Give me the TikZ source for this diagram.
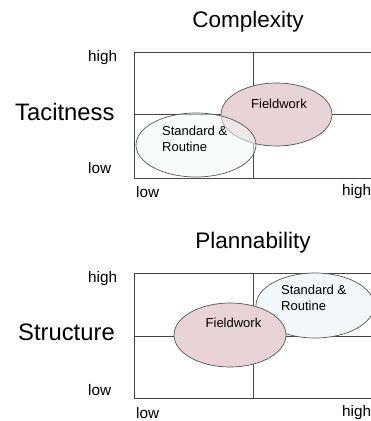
\documentclass[tikz,border=0pt]{standalone}
\usepackage{fontspec}
\setmainfont{Liberation Sans}
\usetikzlibrary{shapes.geometric}
\definecolor{fieldfill}{HTML}{E8D3D6}
\definecolor{stdfill}{HTML}{F2F8FA}
\definecolor{edge}{HTML}{555555}
\definecolor{gridc}{HTML}{444444}
\tikzset{
  gridline/.style={draw=gridc, line width=0.9pt},
  fieldell/.style={ellipse, draw=edge, line width=0.7pt, fill=fieldfill, inner sep=0pt},
  stdell/.style={ellipse, draw=edge, line width=0.7pt, fill=stdfill, inner sep=0pt},
  title/.style={font=\fontsize{22.5}{26}\selectfont, inner sep=0pt},
  axisname/.style={font=\fontsize{23.8}{27}\selectfont, inner sep=0pt, anchor=west},
  tick/.style={font=\fontsize{15.3}{18}\selectfont, inner sep=0pt, anchor=west},
  lbl/.style={font=\fontsize{13}{15.5}\selectfont, inner sep=0pt, align=left},
}
\begin{document}
\begin{tikzpicture}[x=1pt,y=-1pt]
\useasboundingbox (0,0) rectangle (371,421);
\clip (0,0) rectangle (371,421);
\fill[white] (0,0) rectangle (371,421);
% ---------- top chart ----------
\node[title] (t1) at (248,22) {Complexity};
\coordinate (b1tl) at (134,52);
\coordinate (b1br) at (380,178);
\draw[gridline] (b1tl) rectangle (b1br);
\coordinate (v1t) at (253,52);
\coordinate (v1b) at (253,178);
\coordinate (h1l) at (134,114);
\coordinate (h1r) at (380,114);
\draw[gridline] (v1t) -- (v1b);
\draw[gridline] (h1l) -- (h1r);
\node[fieldell, minimum width=111pt, minimum height=63pt] (fw1) at (276.5,114.5) {};
\node[stdell, minimum width=120pt, minimum height=64pt, fill opacity=0.55] (sr1) at (196,145) {};
\node[lbl, anchor=center] (fw1t) at (279,104) {Fieldwork};
\node[lbl, anchor=north west] (sr1t) at (162,126) {Standard \&\\Routine};
\node[axisname] (ya1) at (15,112) {Tacitness};
\node[tick] (yh1) at (88,58) {high};
\node[tick] (yl1) at (88,168) {low};
\node[tick] (xl1) at (136,192) {low};
\node[tick] (xh1) at (342,192) {high};
% ---------- bottom chart ----------
\node[title] (t2) at (253,243) {Plannability};
\coordinate (b2tl) at (134,273);
\coordinate (b2br) at (380,398);
\draw[gridline] (b2tl) rectangle (b2br);
\coordinate (v2t) at (253,273);
\coordinate (v2b) at (253,398);
\coordinate (h2l) at (134,336);
\coordinate (h2r) at (380,336);
\draw[gridline] (v2t) -- (v2b);
\draw[gridline] (h2l) -- (h2r);
\node[stdell, minimum width=118pt, minimum height=65pt] (sr2) at (315,305.5) {};
\node[fieldell, minimum width=112pt, minimum height=64pt] (fw2) at (230,335) {};
\node[lbl, anchor=center] (fw2t) at (233.5,323) {Fieldwork};
\node[lbl, anchor=north west] (sr2t) at (281,285) {Standard \&\\Routine};
\node[axisname] (ya2) at (18,332) {Structure};
\node[tick] (yh2) at (88,279) {high};
\node[tick] (yl2) at (88,390) {low};
\node[tick] (xl2) at (136,413) {low};
\node[tick] (xh2) at (342,413) {high};
\end{tikzpicture}
\end{document}
